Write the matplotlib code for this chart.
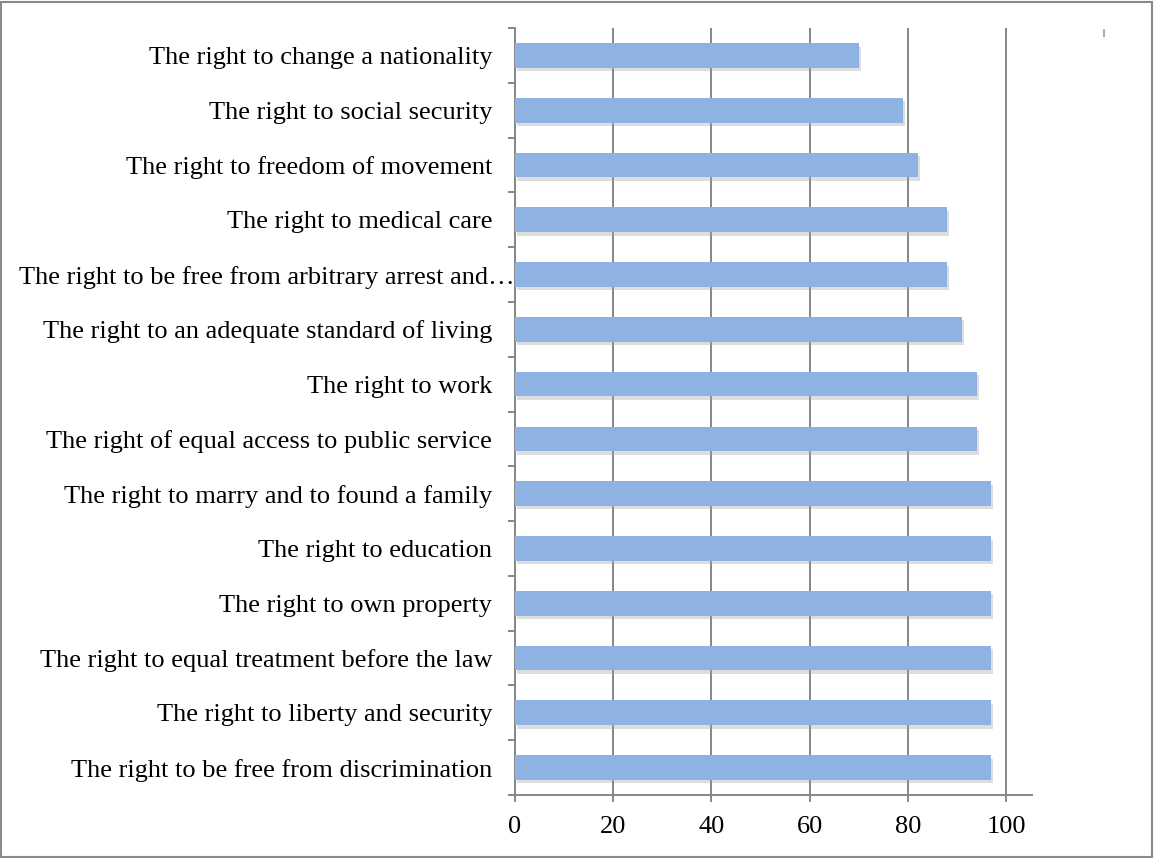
import matplotlib
matplotlib.use("Agg")
import matplotlib.pyplot as plt
import matplotlib.patheffects as pe
from matplotlib.lines import Line2D
from matplotlib.patches import Rectangle
from matplotlib.transforms import ScaledTranslation

categories = [
    "The right to be free from discrimination",
    "The right to liberty and security",
    "The right to equal treatment before the law",
    "The right to own property",
    "The right to education",
    "The right to marry and to found a family",
    "The right of equal access to public service",
    "The right to work",
    "The right to an adequate standard of living",
    "The right to be free from arbitrary arrest and\u2026",
    "The right to medical care",
    "The right to freedom of movement",
    "The right to social security",
    "The right to change a nationality",
]
values = [97, 97, 97, 97, 97, 97, 94, 94, 91, 88, 88, 82, 79, 70]
xticks = [0, 20, 40, 60, 80, 100]

plt.rcParams['font.family'] = ['Liberation Serif', 'DejaVu Serif']

fig = plt.figure(figsize=(11.54, 8.58), dpi=100)
ax = fig.add_axes([515/1154, 1-795/858, (1032-515)/1154, (795-28)/858])

bar_color = "#8EB3E2"
grid_color = "#868686"
n = len(categories)
pos = list(range(n))
bars = ax.barh(pos, values, height=0.45, color=bar_color, zorder=3)
for b in bars:
    b.set_path_effects([pe.SimplePatchShadow(offset=(1.5, -2.5), shadow_rgbFace="#a0a0a0", alpha=0.35), pe.Normal()])

ax.set_xlim(0, 105.3)
ax.set_ylim(-0.5, n - 0.5)
ax.set_xticks(xticks)
ax.set_xticklabels([str(v) for v in xticks])
ax.set_yticks(pos)
ax.set_yticklabels(categories)
ax.set_yticks([i - 0.5 for i in range(n + 1)], minor=True)

ax.xaxis.grid(True, color=grid_color, linewidth=1.4, zorder=0)
ax.set_axisbelow(True)

for s in ["top", "right"]:
    ax.spines[s].set_visible(False)
for s in ["left", "bottom"]:
    ax.spines[s].set_color(grid_color)
    ax.spines[s].set_linewidth(1.4)

ax.tick_params(axis="y", which="major", length=0, pad=16.5, labelsize=19)
ax.tick_params(axis="y", which="minor", length=5, width=1.4, color=grid_color)
ax.tick_params(axis="x", which="major", length=5, width=1.4, color=grid_color, pad=10, labelsize=19)

# the truncated label runs up to the axis line
for lab in ax.get_yticklabels():
    if lab.get_text().endswith("\u2026"):
        lab.set_transform(lab.get_transform() + ScaledTranslation(22/100, 0, fig.dpi_scale_trans))

# small stray mark at top right
fig.add_artist(Line2D([1104/1154, 1104/1154], [1-30/858, 1-36/858], color="#999999", linewidth=1.2))

# figure border
fig.add_artist(Rectangle((0.001, 0.001), 0.997, 0.997, transform=fig.transFigure,
                         fill=False, edgecolor="#8a8a8a", linewidth=1.5))

fig.savefig("out.png", dpi=100)
